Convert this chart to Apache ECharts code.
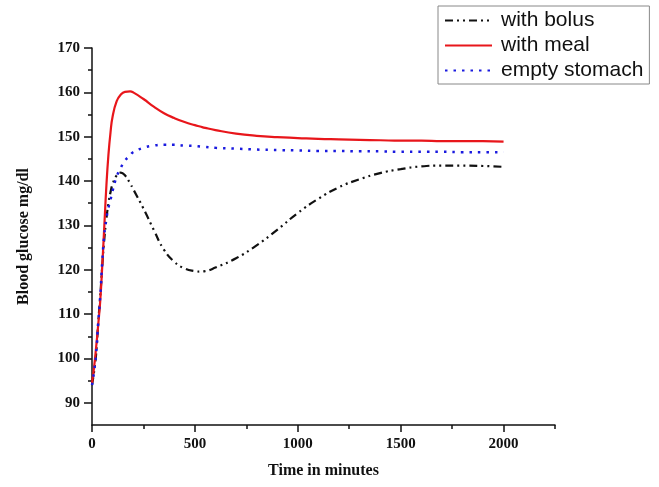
<!DOCTYPE html>
<html>
<head>
<meta charset="utf-8">
<script src="https://cdn.jsdelivr.net/npm/echarts@6/dist/echarts.min.js"></script>
<style>html,body{margin:0;padding:0;background:#fff}#c{width:659px;height:487px}</style>
</head>
<body>
<div id="c"></div>
<script>
var times = [0,10,20,30,40,50,60,70,80,90,100,120,140,160,185,200,250,300,350,400,450,500,525,550,600,700,800,900,1000,1100,1200,1300,1400,1500,1600,1700,1800,1900,2000];
var withBolus = [94,97,101,108,114,121,127,131.5,135,137.5,139.3,141.3,141.9,141.3,139.5,138.2,133.8,129,124.5,121.8,120.3,119.7,119.6,119.7,120.5,122.6,125.5,129,132.8,136,138.6,140.4,141.8,142.7,143.3,143.5,143.5,143.4,143.2];
var withMeal = [94.5,98,102.5,107.5,113,121,130,139,146,151,154.5,158,159.5,160.1,160.2,160,158.5,156.8,155.3,154.2,153.3,152.6,152.3,152,151.5,150.7,150.2,149.9,149.7,149.5,149.4,149.3,149.2,149.1,149.1,149,149,149,148.9];
var emptyStomach = [94,97,101,108,114,122,128,131.5,134,135.8,137.8,141,143,144.6,145.8,146.5,147.5,148,148.2,148.2,148,147.9,147.8,147.7,147.5,147.3,147.1,147,146.9,146.8,146.8,146.7,146.7,146.6,146.6,146.6,146.5,146.5,146.5];
var xMajorTicks = [0,500,1000,1500,2000];
var xMinorTicks = [250,750,1250,1750,2250];
var yMajorTicks = [90,100,110,120,130,140,150,160,170];
var yMinorTicks = [95,105,115,125,135,145,155,165];

function pairs(ys){ return times.map(function(t,i){ return [t, ys[i]]; }); }

var labelFont = {fontFamily:'Liberation Serif', fontWeight:'bold', fontSize:15, color:'#111'};
var chart = echarts.init(document.getElementById('c'));
chart.setOption({
  animation:false,
  grid:{left:92, right:104, top:48, bottom:62},
  legend:{
    orient:'vertical', left:438, top:6,
    padding:[4,6,3,6], itemGap:4, itemWidth:47, itemHeight:14,
    borderColor:'#888', borderWidth:1, backgroundColor:'#fff',
    itemStyle:{opacity:0},
    textStyle:{fontFamily:'Liberation Sans', fontSize:21, color:'#111', padding:[0,0,0,4]},
    data:['with bolus','with meal','empty stomach']
  },
  xAxis:[{
    type:'value', min:0, max:2250,
    name:'Time in minutes', nameLocation:'middle', nameGap:38,
    nameTextStyle:{fontFamily:'Liberation Serif', fontWeight:'bold', fontSize:16, color:'#111'},
    axisLine:{show:true, onZero:false, lineStyle:{color:'#111', width:1.5}},
    axisTick:{show:true, length:7, customValues:xMajorTicks, lineStyle:{color:'#111', width:1.5}},
    axisLabel:Object.assign({customValues:xMajorTicks, margin:12, formatter:function(v){return String(v);}}, labelFont),
    splitLine:{show:false}
  },{
    type:'value', min:0, max:2250, position:'bottom',
    axisLine:{show:false},
    axisTick:{show:true, length:4, customValues:xMinorTicks, lineStyle:{color:'#111', width:1.5}},
    axisLabel:{show:false}, splitLine:{show:false}
  }],
  yAxis:[{
    type:'value', min:85, max:170,
    name:'Blood glucose mg/dl', nameLocation:'middle', nameGap:60, nameRotate:90,
    nameTextStyle:{fontFamily:'Liberation Serif', fontWeight:'bold', fontSize:16, color:'#111'},
    axisLine:{show:true, onZero:false, lineStyle:{color:'#111', width:1.5}},
    axisTick:{show:true, length:8, customValues:yMajorTicks, lineStyle:{color:'#111', width:1.5}},
    axisLabel:Object.assign({customValues:yMajorTicks, margin:12, formatter:function(v){return String(v);}}, labelFont),
    splitLine:{show:false}
  },{
    type:'value', min:85, max:170, position:'left', offset:0,
    axisLine:{show:false},
    axisTick:{show:true, length:4, customValues:yMinorTicks, lineStyle:{color:'#111', width:1.5}},
    axisLabel:{show:false}, splitLine:{show:false}
  }],
  series:[{
    name:'with bolus', type:'line', smooth:true, showSymbol:false, symbol:'none',
    data:pairs(withBolus), xAxisIndex:0, yAxisIndex:0,
    lineStyle:{color:'#111', width:2.2, type:[8,4,2,4,2,4]}, itemStyle:{color:'#111'}
  },{
    name:'with meal', type:'line', smooth:true, showSymbol:false, symbol:'none',
    data:pairs(withMeal), xAxisIndex:0, yAxisIndex:0,
    lineStyle:{color:'#e8161b', width:2.2}, itemStyle:{color:'#e8161b'}
  },{
    name:'empty stomach', type:'line', smooth:true, showSymbol:false, symbol:'none',
    data:pairs(emptyStomach), xAxisIndex:0, yAxisIndex:0,
    lineStyle:{color:'#1a1adf', width:2.5, type:[2.5,6]}, itemStyle:{color:'#1a1adf'}
  }]
});
</script>
</body>
</html>
